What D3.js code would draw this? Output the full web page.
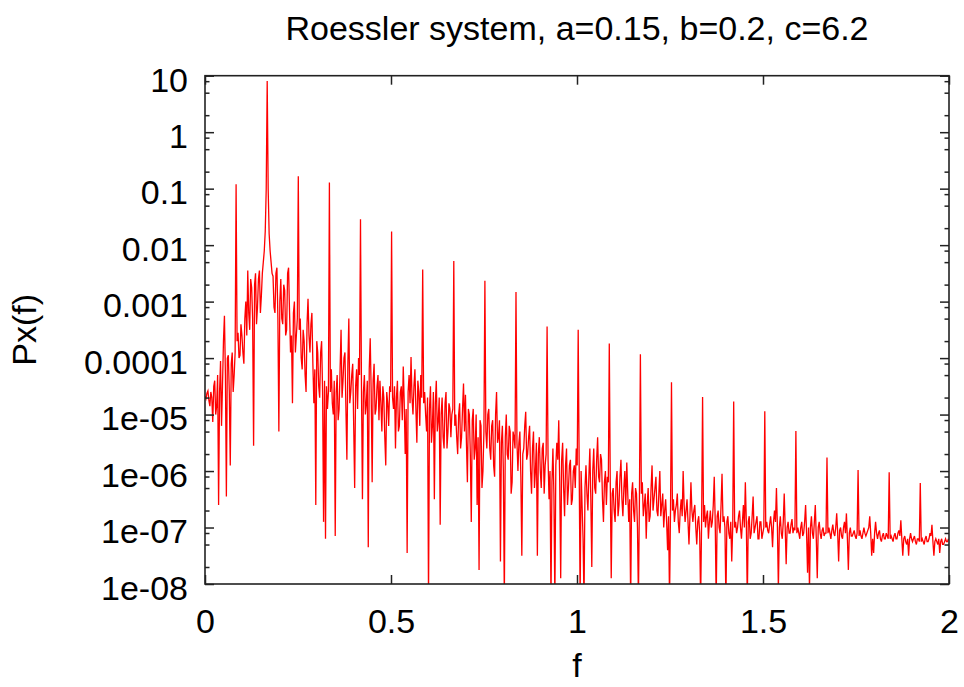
<!DOCTYPE html>
<html>
<head>
<meta charset="utf-8">
<script src="https://cdn.jsdelivr.net/npm/d3@7"></script>
<style>
  body { margin: 0; background: #fff; }
  svg text { font-family: "Liberation Sans", Arial, sans-serif; fill: #000; }
</style>
</head>
<body>
<div id="chart"></div>
<script>
// chart texts
const title = "Roessler system, a=0.15, b=0.2, c=6.2";
const xLabel = "f";
const yLabel = "Px(f)";

// frequency bin width of the spectrum
const df = 0.0026125;

// log10 of Px(f), one value per bin
// (one row per harmonic of f0/2, the last value of a row is the peak)
const logPx = [
  -4.68,-4.72,-4.62,-4.58,-4.75,-4.85,-4.60,-4.70,-5.13,-4.50,-4.40,-5.0,-4.85,-4.3,-6.6,-4.6,-4.05,-5.2,-4.5,-3.7,-3.25,-4.3,-6.45,-4.0,-3.95,-4.6,-5.9,-4.1,-3.9,-4.6,-4.3,-3.9,-0.92,
  -3.7,-3.55,-4.0,-3.95,-3.4,-3.6,-3.9,-4.1,-3.3,-3.0,-3.6,-2.45,-3.2,-3.5,-2.6,-2.75,-3.3,-5.55,-2.7,-2.5,-3.4,-3.1,-2.6,-2.45,-3.2,-2.9,-2.5,-2.3,-2.1,-1.75,-1.0,0.906,
  -1.0,-1.8,-2.1,-2.3,-2.5,-2.55,-3.1,-3.2,-2.5,-2.4,-3.3,-5.3,-3.0,-2.6,-3.3,-3.4,-2.7,-2.8,-3.6,-3.5,-2.5,-2.4,-3.2,-3.9,-3.6,-4.8,-3.2,-3.0,-3.9,-3.6,-3.3,-0.78,
  -3.5,-3.3,-4.0,-4.2,-3.5,-3.7,-4.3,-4.6,-3.4,-2.95,-3.6,-3.9,-3.4,-3.2,-4.1,-4.8,-4.2,-6.6,-3.7,-3.9,-4.5,-4.7,-3.9,-3.7,-4.6,-6.9,-4.4,-7.2,-4.5,-4.9,-4.6,-0.89,
  -4.6,-4.2,-4.8,-5.0,-4.4,-7.15,-4.6,-4.3,-5.1,-4.9,-4.2,-3.5,-4.7,-4.4,-4.0,-3.9,-4.9,-5.8,-4.1,-3.3,-4.8,-4.6,-4.3,-4.1,-5.2,-6.3,-4.5,-4.2,-4.9,-4.0,-4.3,-1.54,
  -4.5,-6.5,-4.6,-4.3,-5.0,-4.8,-4.4,-7.35,-4.2,-3.65,-4.6,-6.2,-4.4,-4.1,-5.0,-4.9,-4.5,-4.3,-5.1,-4.4,-4.8,-5.3,-4.5,-4.7,-5.4,-5.9,-4.6,-4.8,-5.2,-4.5,-4.6,-1.76,
  -4.7,-4.9,-4.5,-5.6,-4.7,-4.4,-5.3,-5.2,-4.6,-4.5,-5.1,-4.15,-4.8,-5.7,-4.9,-7.45,-4.6,-4.3,-4.8,-3.98,-4.7,-5.0,-4.5,-4.2,-4.9,-5.5,-4.4,-4.6,-5.2,-4.3,-4.7,-2.43,
  -4.8,-4.6,-5.0,-5.3,-4.7,-8.3,-4.9,-4.5,-5.5,-5.2,-4.6,-6.5,-4.8,-4.4,-5.3,-5.1,-4.7,-6.95,-5.0,-4.7,-5.4,-5.6,-4.8,-4.6,-5.6,-5.3,-4.8,-4.9,-5.4,-5.0,-4.9,-2.28,
  -5.2,-5.0,-5.4,-5.7,-5.0,-4.8,-5.6,-5.4,-4.9,-4.45,-5.3,-4.65,-5.5,-6.2,-4.9,-5.0,-5.7,-6.9,-5.1,-4.9,-5.8,-5.6,-5.0,-6.6,-5.4,-7.75,-5.1,-5.2,-6.3,-6.0,-5.3,-2.63,
  -5.3,-5.6,-5.0,-4.9,-5.6,-5.8,-5.2,-5.1,-5.9,-6.1,-5.0,-4.6,-5.5,-5.4,-5.1,-7.6,-5.5,-5.2,-6.0,-8.3,-5.4,-5.0,-5.7,-5.8,-5.2,-5.3,-6.4,-6.2,-5.3,-5.4,-5.6,-2.83,
  -5.5,-6.0,-5.5,-5.3,-6.1,-7.5,-5.7,-5.6,-5.2,-4.95,-5.8,-5.7,-5.4,-5.2,-6.0,-6.4,-5.6,-5.3,-6.3,-6.0,-5.5,-7.5,-5.7,-5.4,-6.0,-6.3,-5.6,-5.5,-6.4,-5.9,-5.7,-3.44,
  -5.8,-6.5,-6.0,-8.3,-6.2,-5.6,-6.4,-8.3,-5.9,-5.5,-5.8,-5.1,-6.2,-7.9,-5.8,-5.5,-6.3,-6.8,-5.9,-5.6,-6.6,-6.3,-5.9,-5.8,-6.6,-6.5,-6.0,-5.9,-6.3,-5.6,-5.9,-3.50,
  -5.9,-8.3,-6.0,-6.6,-7.2,-8.3,-6.3,-5.9,-6.4,-6.7,-6.1,-5.6,-6.5,-7.7,-6.0,-5.6,-6.3,-6.4,-5.8,-5.4,-6.1,-6.2,-5.7,-5.8,-6.5,-6.9,-6.2,-6.0,-6.6,-6.1,-6.2,-3.74,
  -6.2,-7.9,-6.4,-6.3,-6.7,-6.9,-6.2,-6.0,-6.8,-6.6,-6.1,-5.8,-6.5,-6.8,-6.3,-6.0,-6.6,-5.85,-6.4,-6.9,-6.5,-8.3,-6.4,-6.2,-6.7,-6.9,-6.3,-6.4,-7.0,-8.3,-6.5,-3.93,
  -6.4,-6.2,-6.8,-6.6,-6.4,-7.2,-6.6,-6.3,-6.9,-6.8,-6.3,-5.9,-6.7,-6.5,-6.3,-6.1,-6.7,-6.8,-6.4,-6.0,-6.8,-6.6,-6.4,-7.0,-6.7,-6.5,-6.9,-7.4,-6.8,-8.3,-6.7,-4.43,
  -6.7,-6.5,-6.9,-6.7,-6.6,-6.4,-6.9,-7.1,-6.7,-6.5,-6.8,-6.0,-6.6,-6.9,-6.7,-6.5,-6.9,-7.3,-6.8,-6.2,-6.7,-6.9,-6.7,-6.6,-7.0,-7.3,-6.9,-6.8,-7.1,-8.3,-6.9,-4.69,
  -6.9,-6.6,-7.0,-6.8,-6.7,-7.2,-6.9,-6.7,-7.0,-6.9,-6.6,-6.1,-6.9,-8.3,-6.8,-6.7,-7.0,-7.1,-6.6,-6.05,-6.9,-6.8,-7.0,-8.3,-6.9,-6.8,-7.1,-7.2,-6.9,-7.6,-7.0,-4.77,
  -7.0,-6.9,-7.1,-7.0,-6.8,-6.7,-7.0,-7.2,-6.9,-6.6,-7.0,-6.2,-6.9,-8.3,-6.9,-6.8,-7.2,-7.1,-6.8,-6.45,-7.1,-7.0,-6.9,-6.8,-7.2,-7.2,-6.9,-6.9,-7.2,-7.1,-7.0,-4.94,
  -7.0,-6.9,-7.05,-7.1,-6.95,-6.8,-7.0,-7.35,-6.9,-6.7,-6.9,-6.3,-7.0,-8.1,-7.0,-6.8,-7.1,-7.2,-6.9,-6.4,-7.0,-7.65,-7.0,-6.9,-7.1,-7.1,-6.95,-6.85,-7.1,-7.0,-7.05,-5.29,
  -7.1,-7.0,-7.1,-7.2,-7.0,-6.9,-7.15,-7.1,-6.9,-6.6,-7.1,-7.8,-7.0,-8.1,-7.0,-6.8,-7.1,-7.2,-6.9,-6.6,-7.2,-7.9,-7.0,-6.9,-7.1,-7.2,-7.05,-7.0,-7.15,-7.1,-7.1,-5.76,
  -7.1,-7.0,-7.1,-7.2,-7.05,-6.95,-7.1,-7.15,-7.0,-6.75,-7.1,-7.6,-7.05,-7.0,-7.15,-7.2,-7.0,-6.9,-7.1,-6.75,-7.2,-7.75,-7.1,-7.0,-7.15,-7.15,-7.1,-7.05,-7.15,-7.2,-7.1,-5.98,
  -7.15,-7.05,-7.15,-7.2,-7.1,-7.0,-7.1,-7.15,-7.1,-7.05,-7.0,-6.8,-7.1,-7.5,-7.2,-7.45,-7.1,-6.9,-7.1,-7.2,-7.1,-7.05,-7.2,-7.25,-7.15,-7.1,-7.2,-7.2,-7.1,-7.15,-7.2,-6.02,
  -7.2,-7.15,-7.2,-7.25,-7.15,-7.1,-7.2,-7.2,-7.1,-7.05,-7.15,-6.87,-7.2,-7.5,-7.2,-7.15,-7.25,-7.3,-7.2,-7.5,-7.2,-7.1,-7.2,-7.25,-7.2,-7.15,-7.25,-7.3,-7.2,-7.2,-7.25,-6.21,
  -7.25,-7.2,-7.25,-7.3,-7.2,-7.15,-7.25,-7.25,-7.2,-7.1,-7.15,-6.95,-7.25,-7.5,-7.25,-7.2,-7.25,-7.3,-7.2,-7.45,-7.25,-7.2,-7.3,-7.3,-7.25,-7.2,-7.25,-7.25,-7.2
];

// axis ticks
const xTicks = [0, 0.5, 1, 1.5, 2];
const yTicks = [10, 1, 0.1, 0.01, 0.001, 0.0001, 1e-5, 1e-6, 1e-7, 1e-8];
const yTickLabels = ["10", "1", "0.1", "0.01", "0.001", "0.0001", "1e-05", "1e-06", "1e-07", "1e-08"];
const yMinorFactors = [0.2, 0.5, 0.8];

const width = 964, height = 687;
const plot = {left: 205, right: 949, top: 75.7, bottom: 584};
const fontSize = 34;

const data = logPx.map((v, i) => ({f: i * df, p: Math.pow(10, v)}));

const svg = d3.select("#chart")
  .append("svg")
    .attr("width", width)
    .attr("height", height)
    .style("background-color", "white");

const x = d3.scaleLinear()
  .domain([0, 2])
  .range([plot.left, plot.right]);

const y = d3.scaleLog()
  .domain([1e-8, 10])
  .range([plot.bottom, plot.top]);

// minor ticks sit at 2, 5 and 8 of every decade
const yMinor = [];
yTicks.slice(0, -1).forEach(t => yMinorFactors.forEach(m => yMinor.push(t * m)));

svg.append("clipPath").attr("id", "clip")
  .append("rect")
    .attr("x", plot.left).attr("y", plot.top)
    .attr("width", plot.right - plot.left)
    .attr("height", plot.bottom - plot.top);

// the spectrum
const line = d3.line()
  .x(d => x(d.f))
  .y(d => y(d.p));

svg.append("path")
  .datum(data)
  .attr("clip-path", "url(#clip)")
  .attr("fill", "none")
  .attr("stroke", "#ff0000")
  .attr("stroke-width", 1.3)
  .attr("d", line);

// axes, gnuplot style: ticks inside on all four sides
const axisColor = "#222";

function styleAxis(g) {
  g.select(".domain").remove();
  g.selectAll(".tick line").attr("stroke", axisColor).attr("stroke-width", 1.5);
  g.selectAll("text").style("font-size", fontSize + "px").attr("fill", "#000");
}

svg.append("g")
  .attr("transform", `translate(${plot.left},0)`)
  .call(d3.axisLeft(y).tickValues(yTicks).tickSize(-9).tickPadding(17)
    .tickFormat((d, i) => yTickLabels[i]))
  .call(styleAxis)
  .selectAll("text").attr("dy", "0.45em");

svg.append("g")
  .attr("transform", `translate(${plot.left},0)`)
  .call(d3.axisLeft(y).tickValues(yMinor).tickSize(-4.5).tickFormat(""))
  .call(styleAxis);

svg.append("g")
  .attr("transform", `translate(${plot.right},0)`)
  .call(d3.axisRight(y).tickValues(yTicks).tickSize(-9).tickFormat(""))
  .call(styleAxis);

svg.append("g")
  .attr("transform", `translate(${plot.right},0)`)
  .call(d3.axisRight(y).tickValues(yMinor).tickSize(-4.5).tickFormat(""))
  .call(styleAxis);

svg.append("g")
  .attr("transform", `translate(0,${plot.bottom})`)
  .call(d3.axisBottom(x).tickValues(xTicks).tickSize(-9).tickPadding(25)
    .tickFormat(d3.format("")))
  .call(styleAxis);

svg.append("g")
  .attr("transform", `translate(0,${plot.top})`)
  .call(d3.axisTop(x).tickValues(xTicks).tickSize(-9).tickFormat(""))
  .call(styleAxis);

// border
svg.append("rect")
  .attr("x", plot.left).attr("y", plot.top)
  .attr("width", plot.right - plot.left)
  .attr("height", plot.bottom - plot.top)
  .attr("fill", "none")
  .attr("stroke", axisColor)
  .attr("stroke-width", 1.6);

// title and axis labels
svg.append("text")
  .attr("x", (plot.left + plot.right) / 2)
  .attr("y", 40)
  .attr("text-anchor", "middle")
  .style("font-size", fontSize + "px")
  .text(title);

svg.append("text")
  .attr("x", (plot.left + plot.right) / 2)
  .attr("y", 677)
  .attr("text-anchor", "middle")
  .style("font-size", fontSize + "px")
  .text(xLabel);

svg.append("text")
  .attr("transform", `translate(36,${(plot.top + plot.bottom) / 2}) rotate(-90)`)
  .attr("text-anchor", "middle")
  .style("font-size", fontSize + "px")
  .text(yLabel);
</script>
</body>
</html>
